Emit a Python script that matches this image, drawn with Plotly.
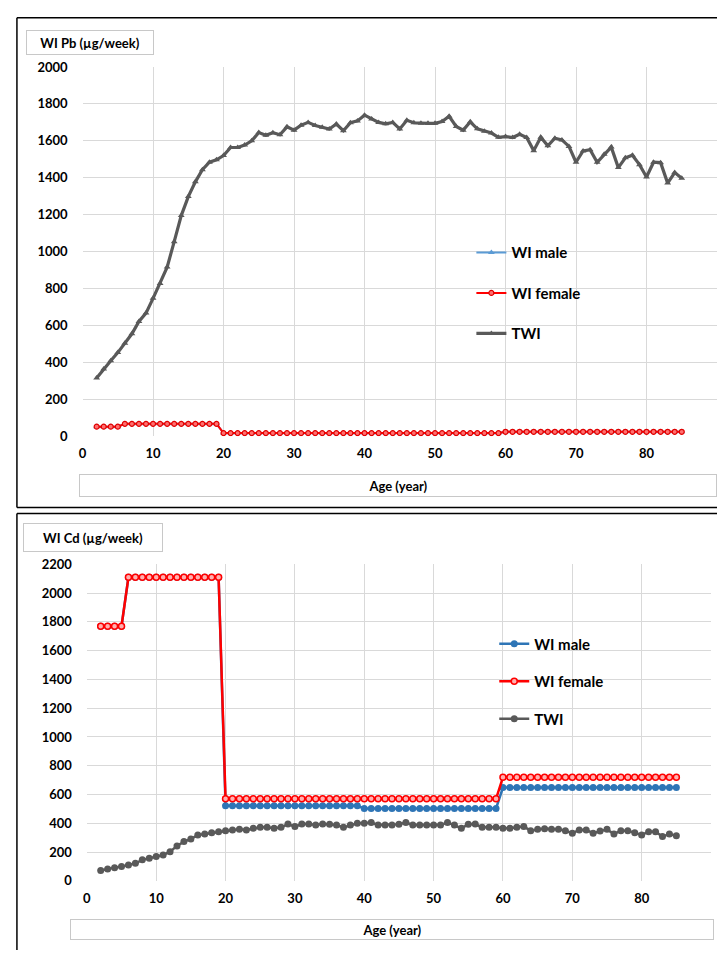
import plotly.graph_objects as go

# ---------------- data ----------------
ages = list(range(2, 86))

pb_female = [52]*4 + [67]*14 + [17]*40 + [24]*26
pb_male = [52]*4 + [67]*14 + [17]*40 + [24]*26
pb_twi = [315, 364, 409, 453, 503, 555, 622, 667, 747, 827,
          916, 1054, 1195, 1298, 1378, 1444, 1484, 1497, 1520, 1564,
          1564, 1577, 1600, 1645, 1630, 1644, 1633, 1676, 1658, 1685,
          1700, 1683, 1673, 1664, 1691, 1655, 1698, 1708, 1739, 1718,
          1700, 1692, 1700, 1664, 1711, 1698, 1695, 1695, 1695, 1705,
          1733, 1678, 1658, 1703, 1665, 1652, 1642, 1619, 1623, 1618,
          1636, 1618, 1547, 1620, 1573, 1614, 1605, 1570, 1484, 1545,
          1552, 1484, 1527, 1566, 1455, 1508, 1522, 1471, 1404, 1484,
          1482, 1371, 1428, 1397]

cd_female = [1770]*4 + [2110]*14 + [570]*40 + [720]*26
cd_male = [1770]*4 + [2110]*14 + [522]*20 + [503]*20 + [648]*26
cd_twi = [72, 83, 92, 99, 111, 122, 146, 157, 169, 180,
          203, 243, 273, 291, 319, 326, 335, 342, 349, 354,
          358, 354, 365, 372, 372, 365, 372, 395, 377, 395,
          395, 388, 395, 393, 388, 372, 388, 400, 400, 405,
          388, 388, 388, 393, 405, 388, 388, 388, 388, 388,
          405, 388, 365, 393, 395, 372, 372, 372, 365, 365,
          372, 377, 349, 358, 363, 358, 358, 349, 331, 354,
          354, 331, 347, 358, 326, 349, 349, 335, 319, 342,
          342, 308, 326, 314]

x_tick_vals = [0, 10, 20, 30, 40, 50, 60, 70, 80, 90]
x_tick_text = ["0", "10", "20", "30", "40", "50", "60", "70", "80", ""]
series_names = ["WI male", "WI female", "TWI"]
y_title_top = "WI Pb (µg/week)"
y_title_bottom = "WI Cd (µg/week)"
x_title = "Age (year)"

# ---------------- layout helpers ----------------
W, H = 717, 958
def px(x):
    return x / W
def py(y):
    return 1 - y / H

FONT = "Lato"
fig = go.Figure()

# ---- top chart (Pb) ----
fig.add_trace(go.Scatter(
    x=ages, y=pb_male, name=series_names[0], mode="lines+markers",
    line=dict(color="#5B9BD5", width=2),
    marker=dict(symbol="triangle-up", size=6, color="#5B9BD5"),
    xaxis="x", yaxis="y", legend="legend", legendgroup="a1"))
fig.add_trace(go.Scatter(
    x=ages, y=pb_female, name=series_names[1], mode="lines+markers",
    line=dict(color="#FF0000", width=2),
    marker=dict(symbol="circle", size=5, color="#FF7070",
                line=dict(color="#E00000", width=1.2)),
    xaxis="x", yaxis="y", legend="legend", legendgroup="a2"))
fig.add_trace(go.Scatter(
    x=ages, y=pb_twi, name=series_names[2], mode="lines+markers",
    line=dict(color="#595959", width=3.2),
    marker=dict(symbol="triangle-up", size=6, color="#595959"),
    xaxis="x", yaxis="y", legend="legend", legendgroup="a3"))

# ---- bottom chart (Cd) ----
fig.add_trace(go.Scatter(
    x=ages, y=cd_male, name=series_names[0], mode="lines+markers",
    line=dict(color="#2E75B6", width=2.5),
    marker=dict(symbol="circle", size=7, color="#2E75B6"),
    xaxis="x2", yaxis="y2", legend="legend2", legendgroup="b1"))
fig.add_trace(go.Scatter(
    x=ages, y=cd_female, name=series_names[1], mode="lines+markers",
    line=dict(color="#FF0000", width=2.5),
    marker=dict(symbol="circle", size=6, color="#FFB0B0",
                line=dict(color="#FF0000", width=1.5)),
    xaxis="x2", yaxis="y2", legend="legend2", legendgroup="b2"))
fig.add_trace(go.Scatter(
    x=ages, y=cd_twi, name=series_names[2], mode="lines+markers",
    line=dict(color="#595959", width=2.5),
    marker=dict(symbol="circle", size=7, color="#595959"),
    xaxis="x2", yaxis="y2", legend="legend2", legendgroup="b3"))

axis_font = dict(family=FONT, size=13, color="#000000", weight="bold")
grid = "#D9D9D9"

fig.update_layout(
    width=W, height=H,
    margin=dict(l=0, r=0, t=0, b=0),
    paper_bgcolor="white", plot_bgcolor="white",
    font=dict(family=FONT),
    xaxis=dict(domain=[px(79), 1.0], range=[0, 90], anchor="y",
               tickvals=x_tick_vals, ticktext=x_tick_text,
               showgrid=True, gridcolor=grid, zeroline=False, showline=False,
               ticks="", tickfont=axis_font, ticklabelstandoff=8),
    yaxis=dict(domain=[py(435.5), py(60)], range=[0, 2000], anchor="x",
               dtick=200, showgrid=True, gridcolor=grid, zeroline=False,
               showline=False, ticks="", tickfont=axis_font,
               ticklabelstandoff=14),
    xaxis2=dict(domain=[px(83.3), px(711)], range=[0, 90], anchor="y2",
                tickvals=x_tick_vals, ticktext=x_tick_text,
                showgrid=True, gridcolor=grid, zeroline=False, showline=False,
                ticks="", tickfont=axis_font, ticklabelstandoff=8),
    yaxis2=dict(domain=[py(887.7), py(565.7)], range=[0, 2200], anchor="x2",
                dtick=200, showgrid=True, gridcolor=grid, zeroline=False,
                showline=False, ticks="", tickfont=axis_font,
                ticklabelstandoff=14),
    legend=dict(x=px(470), y=py(232), xanchor="left", yanchor="top",
                traceorder="grouped", tracegroupgap=18,
                bgcolor="rgba(0,0,0,0)",
                font=dict(family=FONT, size=15, color="#000000", weight="bold")),
    legend2=dict(x=px(493), y=py(630), xanchor="left", yanchor="top",
                 traceorder="grouped", tracegroupgap=15,
                 bgcolor="rgba(0,0,0,0)",
                 font=dict(family=FONT, size=15, color="#000000", weight="bold")),
)

# outer borders (kept inside the page so nothing overflows)
def hline(y, x0, x1):
    fig.add_shape(type="line", xref="paper", yref="paper",
                  x0=px(x0), x1=px(x1), y0=py(y), y1=py(y),
                  line=dict(color="#000000", width=1.5), layer="above")
def vline(x, y0, y1):
    fig.add_shape(type="line", xref="paper", yref="paper",
                  x0=px(x), x1=px(x), y0=py(y0), y1=py(y1),
                  line=dict(color="#000000", width=1.5), layer="above")

hline(10, 13, 717)
hline(508, 13, 717)
vline(13, 10, 508)
hline(514, 13, 717)
vline(13, 514, 958)

title_font = dict(family=FONT, size=13, color="#000000", weight="bold")
box_line = "#C8C8C8"

def boxed(text, cx, cy, w, h):
    fig.add_annotation(xref="paper", yref="paper", x=px(cx), y=py(cy),
                       xanchor="center", yanchor="middle", text=text,
                       showarrow=False, width=w, height=h, align="center",
                       bordercolor=box_line, borderwidth=1, borderpad=1,
                       bgcolor="white", font=title_font)

boxed(y_title_top, 86, 35.5, 124, 21)
boxed(y_title_bottom, 90, 538.5, 136, 25)
boxed(x_title, 396, 485.5, 634, 19)
boxed(x_title, 390, 937.5, 640, 17)

post = (
    "var h=document.documentElement,b=document.body;"
    "h.style.margin='0';h.style.padding='0';h.style.overflow='hidden';"
    "b.style.margin='0';b.style.padding='0';b.style.overflow='hidden';"
)

fig.write_html("out.html", config={"displayModeBar": False}, post_script=post)
